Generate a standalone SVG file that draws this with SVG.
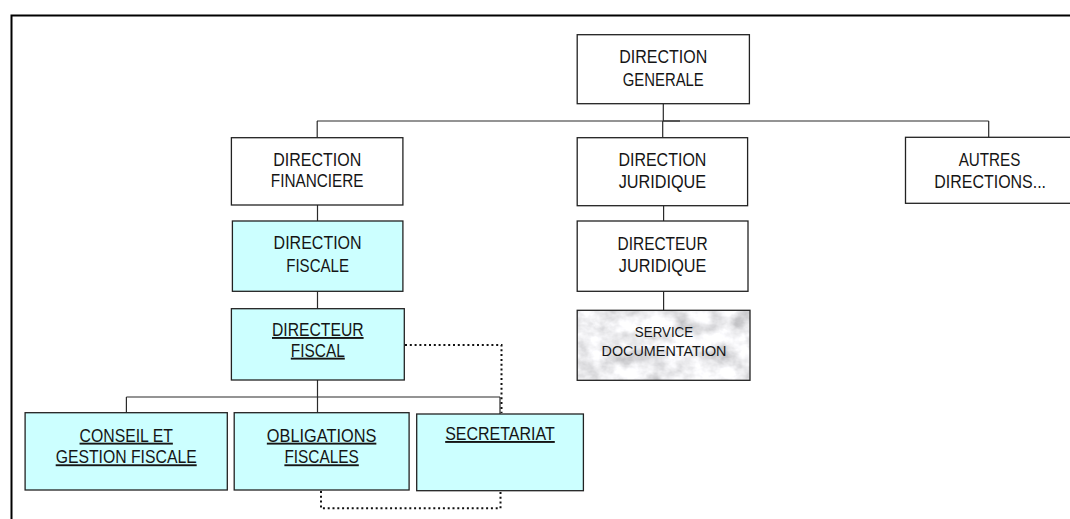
<svg xmlns="http://www.w3.org/2000/svg" width="1070" height="519" viewBox="0 0 1070 519">
<style>
.box{stroke:#222;stroke-width:1.3;fill:#fff}
.cyan{fill:#ccffff}
.t{font-family:"Liberation Sans",Arial,sans-serif;font-size:19px;fill:#151515;text-anchor:middle}
.s{font-size:15px}
.u{text-decoration:underline}
.c{stroke:#2a2a2a;stroke-width:1.2;fill:none}
.d{stroke:#111;stroke-width:2;fill:none;stroke-dasharray:2 2.8}
</style>
<defs>
<filter id="marble" x="0" y="0" width="1" height="1">
<feTurbulence type="fractalNoise" baseFrequency="0.045 0.06" numOctaves="4" seed="3" result="n"/>
<feColorMatrix in="n" type="matrix" values="0.9 0 0 0 0.4  0.9 0 0 0 0.4  0.9 0 0 0 0.42  0 0 0 0 1" result="g"/>
<feComposite in="g" in2="SourceGraphic" operator="in"/>
</filter>
</defs>
<rect x="11.5" y="15.5" width="1100" height="600" fill="none" stroke="#000" stroke-width="2"/>
<g id="connectors">
<path class="c" d="M663.3 103.7V121M317 121H988.7M317.2 121V137.7M662.7 121V137.7M988.7 121V137.3M317.5 205V221M317.5 291.3V308.7M663.6 205.7V221M663.6 291.3V310.3M317.5 380V397M126.4 397H500M126.4 397V412.7M317.5 397V412.7M500 397V414"/>
<path class="c" d="M663 121H680" stroke-width="2"/>
<path class="d" d="M405 345H501.5V413"/>
<path class="d" d="M321 491V508.3H500.5V491"/>
</g>
<g id="direction-generale">
<rect class="box" x="577.2" y="34.7" width="172.2" height="69"/>
<text class="t" x="663.3" y="63.3" textLength="88" lengthAdjust="spacingAndGlyphs">DIRECTION</text>
<text class="t" x="663.3" y="86" textLength="81" lengthAdjust="spacingAndGlyphs">GENERALE</text>
</g>
<g id="direction-financiere">
<rect class="box" x="231.4" y="137.7" width="171.5" height="67.3"/>
<text class="t" x="317.2" y="166" textLength="88" lengthAdjust="spacingAndGlyphs">DIRECTION</text>
<text class="t" x="317.2" y="187.3" textLength="92.7" lengthAdjust="spacingAndGlyphs">FINANCIERE</text>
</g>
<g id="direction-juridique">
<rect class="box" x="577.2" y="137.7" width="170.4" height="68"/>
<text class="t" x="662.4" y="166.3" textLength="88" lengthAdjust="spacingAndGlyphs">DIRECTION</text>
<text class="t" x="662.4" y="188" textLength="87.5" lengthAdjust="spacingAndGlyphs">JURIDIQUE</text>
</g>
<g id="autres-directions">
<rect class="box" x="905.5" y="137.3" width="200" height="66"/>
<text class="t" x="989.5" y="166" textLength="61.7" lengthAdjust="spacingAndGlyphs">AUTRES</text>
<text class="t" x="990.2" y="188.3" textLength="111.7" lengthAdjust="spacingAndGlyphs">DIRECTIONS...</text>
</g>
<g id="direction-fiscale">
<rect class="box cyan" x="232.4" y="221" width="170.5" height="70.3"/>
<text class="t" x="317.6" y="249" textLength="88" lengthAdjust="spacingAndGlyphs">DIRECTION</text>
<text class="t" x="317.6" y="271.5" textLength="62.7" lengthAdjust="spacingAndGlyphs">FISCALE</text>
</g>
<g id="directeur-juridique">
<rect class="box" x="577.2" y="221" width="170.8" height="70.3"/>
<text class="t" x="662.6" y="249.5" textLength="90.2" lengthAdjust="spacingAndGlyphs">DIRECTEUR</text>
<text class="t" x="662.6" y="271.5" textLength="87.5" lengthAdjust="spacingAndGlyphs">JURIDIQUE</text>
</g>
<g id="directeur-fiscal">
<rect class="box cyan" x="231.4" y="308.7" width="172.9" height="71.3"/>
<text class="t u" x="317.8" y="336" textLength="91.6" lengthAdjust="spacingAndGlyphs">DIRECTEUR</text>
<text class="t u" x="317.8" y="356.7" textLength="54" lengthAdjust="spacingAndGlyphs">FISCAL</text>
</g>
<g id="service-documentation">
<rect x="577.2" y="310.3" width="172.8" height="70" fill="#fff" filter="url(#marble)"/>
<rect x="577.2" y="310.3" width="172.8" height="70" fill="none" stroke="#222" stroke-width="1.3"/>
<text class="t s" x="664" y="336.7" textLength="58.3" lengthAdjust="spacingAndGlyphs">SERVICE</text>
<text class="t s" x="664" y="355.7" textLength="125" lengthAdjust="spacingAndGlyphs">DOCUMENTATION</text>
</g>
<g id="conseil-gestion-fiscale">
<rect class="box cyan" x="25.1" y="412.7" width="202.2" height="77.3"/>
<text class="t u" x="126.2" y="441.7" textLength="93.3" lengthAdjust="spacingAndGlyphs">CONSEIL ET</text>
<text class="t u" x="126.2" y="463.3" textLength="141" lengthAdjust="spacingAndGlyphs">GESTION FISCALE</text>
</g>
<g id="obligations-fiscales">
<rect class="box cyan" x="234.2" y="412.7" width="174.9" height="77.3"/>
<text class="t u" x="321.6" y="441.7" textLength="109.5" lengthAdjust="spacingAndGlyphs">OBLIGATIONS</text>
<text class="t u" x="321.6" y="463.3" textLength="74.4" lengthAdjust="spacingAndGlyphs">FISCALES</text>
</g>
<g id="secretariat">
<rect class="box cyan" x="416.7" y="414" width="166.7" height="76.7"/>
<text class="t u" x="500" y="440" textLength="109.6" lengthAdjust="spacingAndGlyphs">SECRETARIAT</text>
</g>
</svg>
